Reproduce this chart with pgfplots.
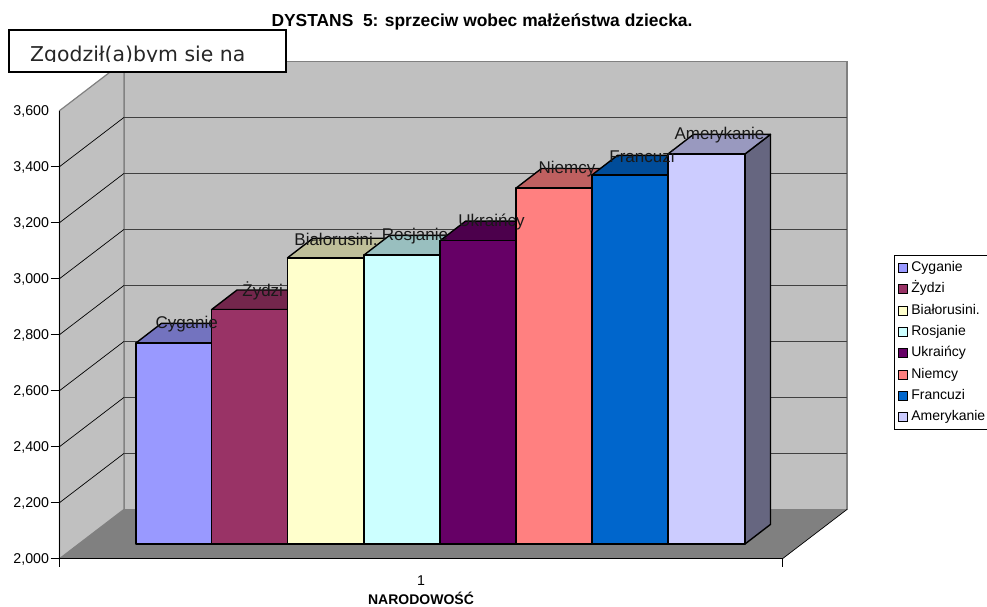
\documentclass[border=0pt]{standalone}
\usepackage{fontspec}
\setmainfont{Liberation Sans}
\newfontfamily\boxfont{DejaVu Sans}
\usepackage{pgfplots}
\usepackage{pgfplotstable}
\pgfplotsset{compat=1.18}
\definecolor{cyg}{HTML}{9999FF}
\definecolor{zyd}{HTML}{993366}
\definecolor{bia}{HTML}{FFFFCC}
\definecolor{ros}{HTML}{CCFFFF}
\definecolor{ukr}{HTML}{660066}
\definecolor{nie}{HTML}{FF8080}
\definecolor{fra}{HTML}{0066CC}
\definecolor{ame}{HTML}{CCCCFF}
\definecolor{wall}{HTML}{C0C0C0}
\definecolor{flr}{HTML}{808080}
\definecolor{gridc}{HTML}{404040}

% value labels sit above the bar tops
\pgfplotstableread{
xc v name
186.7 2718 Cyganie
262.7 2837 Żydzi
336 3022 Białorusini.
415 3032 Rosjanie
491.5 3083 Ukraińcy
567 3271 Niemcy
642 3318 Francuzi
719.5 3393 Amerykanie
}\labels

% bars stand 52.5 units above the front edge, depth 25.5 px / 70 units
\newcommand{\cube}[4]{%
  \pgfmathsetmacro\ya{2052.5}
  \pgfmathsetmacro\yt{#4+52.5}
  \pgfmathsetmacro\yb{#4+122.5}
  \pgfmathsetmacro\xa{#2+25.5}
  \pgfmathsetmacro\xb{#3+25.5}
  \addplot[forget plot,draw=black,line width=1.4pt,line join=round,fill=#1!50!black]
    coordinates {(#3,\ya)(\xb,2122.5)(\xb,\yb)(#3,\yt)} -- cycle;
  \addplot[forget plot,draw=black,line width=1.4pt,line join=round,fill=#1!75!black]
    coordinates {(#2,\yt)(#3,\yt)(\xb,\yb)(\xa,\yb)} -- cycle;
  \addplot[forget plot,draw=black,line width=1.4pt,line join=round,fill=#1]
    coordinates {(#2,\ya)(#3,\ya)(#3,\yt)(#2,\yt)} -- cycle;
}
\newcommand{\gridl}[2]{%
  \addplot[forget plot,black,line width=0.7pt] coordinates {(59.5,#1)(124,#2)};
  \addplot[forget plot,gridc,line width=1pt] coordinates {(124,#2)(847,#2)};
}

\begin{document}
\begin{tikzpicture}[x=1pt,y=1pt]
\path[use as bounding box] (0,0) rectangle (987,607);
\begin{axis}[at={(59.5pt,48.3pt)},anchor=south west,scale only axis,
  width=723pt,height=448pt,clip=false,axis on top,
  xmin=59.5,xmax=782.5,ymin=2000,ymax=3600,
  axis x line*=bottom,axis y line*=left,axis line style={-,black,line width=1pt},
  xtick={421},xticklabels={1},xtick style={draw=none},
  ytick={2000,2200,...,3400},
  extra y ticks={3600},extra y tick style={tick style={draw=none}},
  tick align=outside,major tick length=9pt,
  y tick style={black,line width=0.7pt},
  /pgf/number format/assume math mode=true,
  /pgf/number format/1000 sep={,},
  tick label style={font=\fontsize{14.2}{15}\selectfont},
  yticklabel style={xshift=2pt,yshift=-1pt},
  xticklabel style={yshift=-4pt},
  xlabel={\textbf{NARODOWOŚĆ}},
  xlabel style={font=\fontsize{14}{15}\selectfont,yshift=-3.5pt,inner sep=0pt},
  legend style={at={(axis cs:894,3085)},anchor=north west,draw=black,line width=0.9pt,
    font=\fontsize{14}{15}\selectfont,legend cell align=left,
    inner xsep=3.5pt,inner ysep=6pt,row sep=8.36pt,
    nodes={inner xsep=3.5pt,inner ysep=0pt,text height=10pt,text depth=3pt}},
  legend image code/.code={\draw[#1] (0pt,-4.5pt) rectangle (9pt,4.5pt);},
]
% walls and floor
\addplot[forget plot,draw=flr,line width=1.2pt,fill=wall] coordinates {(124,2176)(847,2176)(847,3776)(124,3776)} -- cycle;
\addplot[forget plot,draw=flr,line width=1.2pt,fill=wall] coordinates {(59.5,2000)(124,2176)(124,3776)(59.5,3600)} -- cycle;
\addplot[forget plot,draw=none,fill=flr] coordinates {(59.5,2000)(782.5,2000)(847,2176)(124,2176)} -- cycle;
\addplot[forget plot,black,line width=0.7pt] coordinates {(782.5,2000)(847,2176)};
% ticks at the ends of the category axis
\addplot[forget plot,black,line width=0.7pt] coordinates {(59.5,2000)(59.5,1971)};
\addplot[forget plot,black,line width=0.7pt] coordinates {(782.5,2000)(782.5,1971)};
\gridl{2200}{2376}
\gridl{2400}{2576}
\gridl{2600}{2776}
\gridl{2800}{2976}
\gridl{3000}{3176}
\gridl{3200}{3376}
\gridl{3400}{3576}
% bars
\cube{cyg}{136}{211.5}{2718}
\cube{zyd}{211.5}{287.5}{2837}
\cube{bia}{287.5}{364}{3022}
\cube{ros}{364}{440}{3032}
\cube{ukr}{440}{516}{3083}
\cube{nie}{516}{592}{3271}
\cube{fra}{592}{668}{3318}
\cube{ame}{668}{745}{3393}
% labels over the bars
\addplot[forget plot,only marks,mark=none,point meta=explicit symbolic,
  nodes near coords,
  every node near coord/.style={anchor=center,inner sep=0pt,font=\fontsize{17}{18}\selectfont,text=black!90}]
  table[x=xc,y expr=\thisrow{v}+119,meta=name] {\labels};
% legend
\addlegendimage{draw=black,fill=cyg}\addlegendentry{Cyganie}
\addlegendimage{draw=black,fill=zyd}\addlegendentry{Żydzi}
\addlegendimage{draw=black,fill=bia}\addlegendentry{Białorusini.}
\addlegendimage{draw=black,fill=ros}\addlegendentry{Rosjanie}
\addlegendimage{draw=black,fill=ukr}\addlegendentry{Ukraińcy}
\addlegendimage{draw=black,fill=nie}\addlegendentry{Niemcy}
\addlegendimage{draw=black,fill=fra}\addlegendentry{Francuzi}
\addlegendimage{draw=black,fill=ame}\addlegendentry{Amerykanie}
\end{axis}
\node[font=\fontsize{17.4}{18}\selectfont\bfseries] at (482,585) {DYSTANS\ \ 5: sprzeciw wobec małżeństwa dziecka.};
% text box, cut off at its lower edge as in the original
\draw[black,fill=white,line width=1.2pt] (9,535) rectangle (286,577);
\begin{scope}
\clip (9,545) rectangle (286,577);
\node[anchor=base west,inner sep=0pt,text=black!85,font=\boxfont\fontsize{20.4}{22}\selectfont] at (30,545) {Zgodził(a)bym się na};
\end{scope}
\end{tikzpicture}
\end{document}
